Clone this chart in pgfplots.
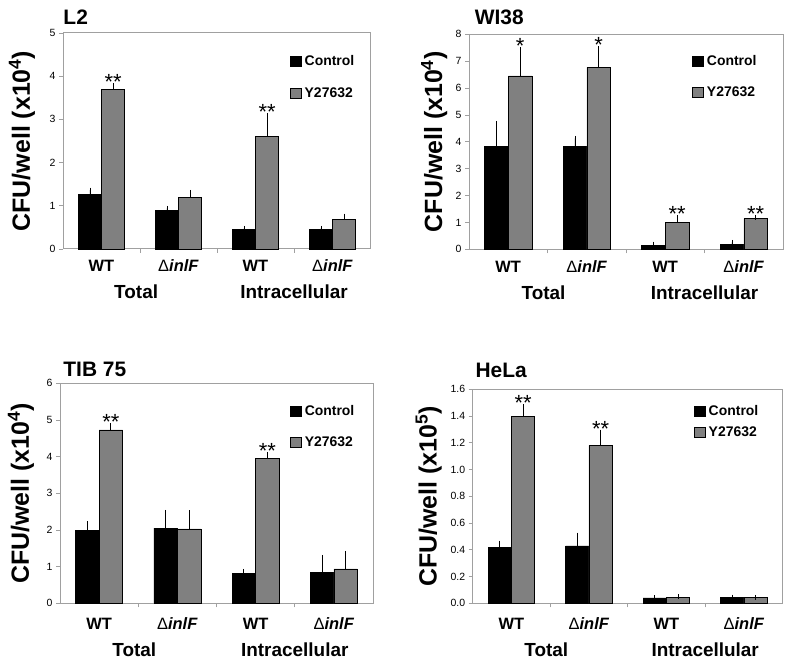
\documentclass[border=0pt]{standalone}
\usepackage{fontspec}
\setmainfont{Liberation Sans}
\usepackage{pgfplots}
\pgfplotsset{compat=1.18}
\definecolor{axgray}{RGB}{160,160,160}
\definecolor{bargray}{RGB}{128,128,128}
\newcommand{\dinlF}{\textmd{Δ}\textit{inlF}}
\newcommand{\grpfont}{\bfseries\fontsize{19}{19}\selectfont}
\newcommand{\astfont}{\fontsize{22}{22}\selectfont}
\newcommand{\ttlfont}{\bfseries\fontsize{21}{21}\selectfont}
\pgfplotsset{
  panel/.style={
    scale only axis, clip=false,
    xmin=-0.5, xmax=3.5, ymin=0,
    axis line style={draw=axgray, line width=1bp},
    tick align=outside,
    xtick={0,1,2,3},
    xticklabels={WT,\dinlF,WT,\dinlF},
    xtick pos=left, ytick pos=left,
    major x tick style={draw=none},
    extra x ticks={0.5,1.5,2.5},
    extra x tick labels={},
    extra x tick style={major x tick style={draw=axgray, line width=0.8bp}},
    major tick length=4bp,
    ytick style={draw=axgray, line width=0.8bp},
    xticklabel style={font=\bfseries\fontsize{16.5}{16.5}\selectfont, anchor=base, yshift=-19bp},
    yticklabel style={font=\fontsize{10.5}{10.5}\selectfont},
    /pgf/number format/assume math mode=true,
    ylabel style={font=\bfseries\fontsize{25}{25}\selectfont, anchor=center},
    legend style={draw=none, fill=none, font=\bfseries\fontsize{14}{14}\selectfont,
      anchor=north west, row sep=16bp, inner sep=0pt, legend cell align=left,
      nodes={inner xsep=3bp}},
    legend image code/.code={\draw[#1] (0bp,-5bp) rectangle (11bp,5bp);},
    error bars/y dir=plus, error bars/y explicit,
    error bars/error mark options={mark size=2.5bp, black, line width=0.8bp},
    error bars/error bar style={black, line width=0.8bp},
  },
  ctrl/.style={ybar, bar width=0.3, bar shift=0pt, fill=black, draw=black, line width=0.5bp},
  trt/.style={ybar, bar width=0.3, bar shift=0pt, fill=bargray, draw=black, line width=0.5bp},
}
\begin{document}
\begin{tikzpicture}
\useasboundingbox (0,0) rectangle (792bp,665bp);
% ---------------- L2 ----------------
\begin{axis}[panel, at={(63bp,416bp)}, anchor=south west, width=308bp, height=216bp,
  ymax=5, ytick={0,1,2,3,4,5},
  ylabel={CFU/well (x10\textsuperscript{4})},
  ylabel style={at={(axis description cs:-0.133,0.5)}},
  legend style={at={(axis description cs:0.737,0.905)}}]
\addplot[ctrl] coordinates {(-0.15,1.26) +- (0,0.10) (0.85,0.89) +- (0,0.05) (1.85,0.46) +- (0,0.02) (2.85,0.45) +- (0,0.03)};
\addlegendentry{Control}
\addplot[trt] coordinates {(0.15,3.69) +- (0,0.10) (1.15,1.20) +- (0,0.11) (2.15,2.61) +- (0,0.47) (3.15,0.69) +- (0,0.07)};
\addlegendentry{Y27632}
\node[font=\ttlfont, anchor=base, yshift=8bp] at (axis cs:-0.335,5) {L2};
\node[font=\astfont, anchor=base, yshift=-4bp] at (axis cs:0.15,3.79) {**};
\node[font=\astfont, anchor=base, yshift=-4bp] at (axis cs:2.15,3.08) {**};
\node[font=\grpfont, anchor=base, yshift=-50bp] at (axis cs:0.45,0) {Total};
\node[font=\grpfont, anchor=base, yshift=-50bp] at (axis cs:2.5,0) {Intracellular};
\end{axis}
% ---------------- WI38 ----------------
\begin{axis}[panel, at={(469bp,415.7bp)}, anchor=south west, width=314bp, height=215bp,
  ymax=8, ytick={0,1,2,3,4,5,6,7,8},
  ylabel={CFU/well (x10\textsuperscript{4})},
  ylabel style={at={(axis description cs:-0.111,0.5)}},
  legend style={at={(axis description cs:0.711,0.913)}}]
\addplot[ctrl] coordinates {(-0.15,3.82) +- (0,0.87) (0.85,3.82) +- (0,0.31) (1.85,0.14) +- (0,0.05) (2.85,0.17) +- (0,0.09)};
\addlegendentry{Control}
\addplot[trt] coordinates {(0.15,6.45) +- (0,0.97) (1.15,6.77) +- (0,0.70) (2.15,1.00) +- (0,0.18) (3.15,1.14) +- (0,0.05)};
\addlegendentry{Y27632}
\node[font=\ttlfont, anchor=base, yshift=10bp] at (axis cs:-0.115,8) {WI38};
\node[font=\astfont, anchor=base, yshift=-4bp] at (axis cs:0.15,7.42) {*};
\node[font=\astfont, anchor=base, yshift=-4bp] at (axis cs:1.15,7.47) {*};
\node[font=\astfont, anchor=base, yshift=-4bp] at (axis cs:2.15,1.18) {**};
\node[font=\astfont, anchor=base, yshift=-4bp] at (axis cs:3.15,1.19) {**};
\node[font=\grpfont, anchor=base, yshift=-50bp] at (axis cs:0.45,0) {Total};
\node[font=\grpfont, anchor=base, yshift=-50bp] at (axis cs:2.5,0) {Intracellular};
\end{axis}
% ---------------- TIB 75 ----------------
\begin{axis}[panel, at={(60bp,61.7bp)}, anchor=south west, width=313bp, height=220bp,
  ymax=6, ytick={0,1,2,3,4,5,6},
  xticklabel style={yshift=-3bp},
  ylabel={CFU/well (x10\textsuperscript{4})},
  ylabel style={at={(axis description cs:-0.125,0.5)}},
  legend style={at={(axis description cs:0.735,0.91)}}]
\addplot[ctrl] coordinates {(-0.15,1.99) +- (0,0.18) (0.85,2.05) +- (0,0.43) (1.85,0.81) +- (0,0.06) (2.85,0.85) +- (0,0.40)};
\addlegendentry{Control}
\addplot[trt] coordinates {(0.15,4.73) +- (0,0.11) (1.15,2.03) +- (0,0.44) (2.15,3.95) +- (0,0.10) (3.15,0.94) +- (0,0.42)};
\addlegendentry{Y27632}
\node[font=\ttlfont, anchor=base, yshift=7bp] at (axis cs:-0.055,6) {TIB 75};
\node[font=\astfont, anchor=base, yshift=-4bp] at (axis cs:0.15,4.84) {**};
\node[font=\astfont, anchor=base, yshift=-4bp] at (axis cs:2.15,4.05) {**};
\node[font=\grpfont, anchor=base, yshift=-53bp] at (axis cs:0.45,0) {Total};
\node[font=\grpfont, anchor=base, yshift=-53bp] at (axis cs:2.5,0) {Intracellular};
\end{axis}
% ---------------- HeLa ----------------
\begin{axis}[panel, at={(472.7bp,61.7bp)}, anchor=south west, width=310bp, height=214bp,
  ymax=1.6, ytick={0,0.2,0.4,0.6,0.8,1.0,1.2,1.4,1.6},
  yticklabel style={/pgf/number format/.cd, fixed, fixed zerofill, precision=1},
  xticklabel style={yshift=-3bp},
  ylabel={CFU/well (x10\textsuperscript{5})},
  ylabel style={at={(axis description cs:-0.142,0.5)}},
  legend style={at={(axis description cs:0.714,0.937)}, row sep=6bp}]
\addplot[ctrl] coordinates {(-0.15,0.42) +- (0,0.03) (0.85,0.43) +- (0,0.08) (1.85,0.040) +- (0,0.003) (2.85,0.045) +- (0,0.002)};
\addlegendentry{Control}
\addplot[trt] coordinates {(0.15,1.40) +- (0,0.07) (1.15,1.18) +- (0,0.10) (2.15,0.045) +- (0,0.005) (3.15,0.042) +- (0,0.003)};
\addlegendentry{Y27632}
\node[font=\ttlfont, anchor=base, yshift=12bp] at (axis cs:-0.133,1.6) {HeLa};
\node[font=\astfont, anchor=base, yshift=-4bp] at (axis cs:0.15,1.47) {**};
\node[font=\astfont, anchor=base, yshift=-4bp] at (axis cs:1.15,1.28) {**};
\node[font=\grpfont, anchor=base, yshift=-53bp] at (axis cs:0.45,0) {Total};
\node[font=\grpfont, anchor=base, yshift=-53bp] at (axis cs:2.5,0) {Intracellular};
\end{axis}
\end{tikzpicture}
\end{document}
